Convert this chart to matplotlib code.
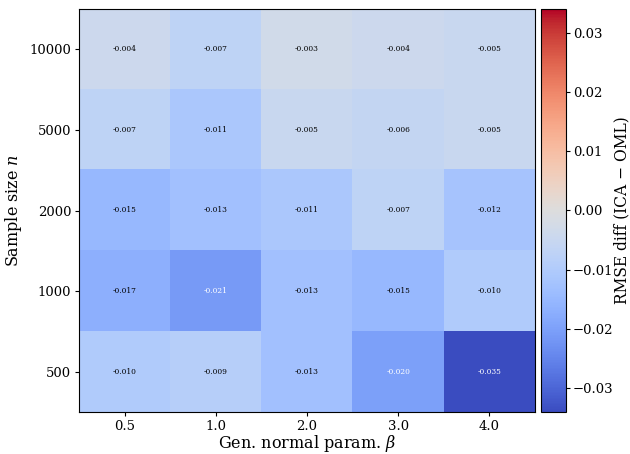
import numpy as np
import matplotlib
matplotlib.use("Agg")
import matplotlib.pyplot as plt

betas = ["0.5", "1.0", "2.0", "3.0", "4.0"]
sample_sizes = ["10000", "5000", "2000", "1000", "500"]
row_10000 = [-0.004, -0.007, -0.003, -0.004, -0.005]
row_5000 = [-0.007, -0.011, -0.005, -0.006, -0.005]
row_2000 = [-0.015, -0.013, -0.011, -0.007, -0.012]
row_1000 = [-0.017, -0.021, -0.013, -0.015, -0.010]
row_500 = [-0.010, -0.009, -0.013, -0.020, -0.035]

vals = np.array([row_10000, row_5000, row_2000, row_1000, row_500])
vlim = 0.034

plt.rcParams['font.family'] = ['DejaVu Serif']
plt.rcParams['mathtext.fontset'] = 'dejavuserif'

fig = plt.figure(figsize=(6.3, 4.54), dpi=100)
ax = fig.add_axes([79/630, 1 - 412/454, (535-79)/630, (412-9)/454])
cax = fig.add_axes([541/630, 1 - 412/454, (566-541)/630, (412-9)/454])

im = ax.imshow(vals, cmap='coolwarm', vmin=-vlim, vmax=vlim, aspect='auto')
ax.set_xticks(range(len(betas)))
ax.set_xticklabels(betas, fontsize=9.5)
ax.set_yticks(range(len(sample_sizes)))
ax.set_yticklabels(sample_sizes, fontsize=9.5)
ax.tick_params(length=3, pad=2.5)
ax.set_xlabel(r"Gen. normal param. $\beta$", fontsize=11.5, labelpad=0)
ax.set_ylabel(r"Sample size $n$", fontsize=11.5, labelpad=4)

for i in range(vals.shape[0]):
    for j in range(vals.shape[1]):
        v = vals[i, j]
        color = 'white' if v <= -0.02 else 'black'
        ax.text(j, i, f"{v:.3f}", ha='center', va='center', fontsize=5.4, color=color)

cb = fig.colorbar(im, cax=cax)
cb.set_ticks([-0.03, -0.02, -0.01, 0.0, 0.01, 0.02, 0.03])
cb.ax.tick_params(labelsize=9.5, length=3, pad=2)
cb.set_label("RMSE diff (ICA − OML)", fontsize=11.2, labelpad=0)

fig.savefig("out.png", dpi=100)
